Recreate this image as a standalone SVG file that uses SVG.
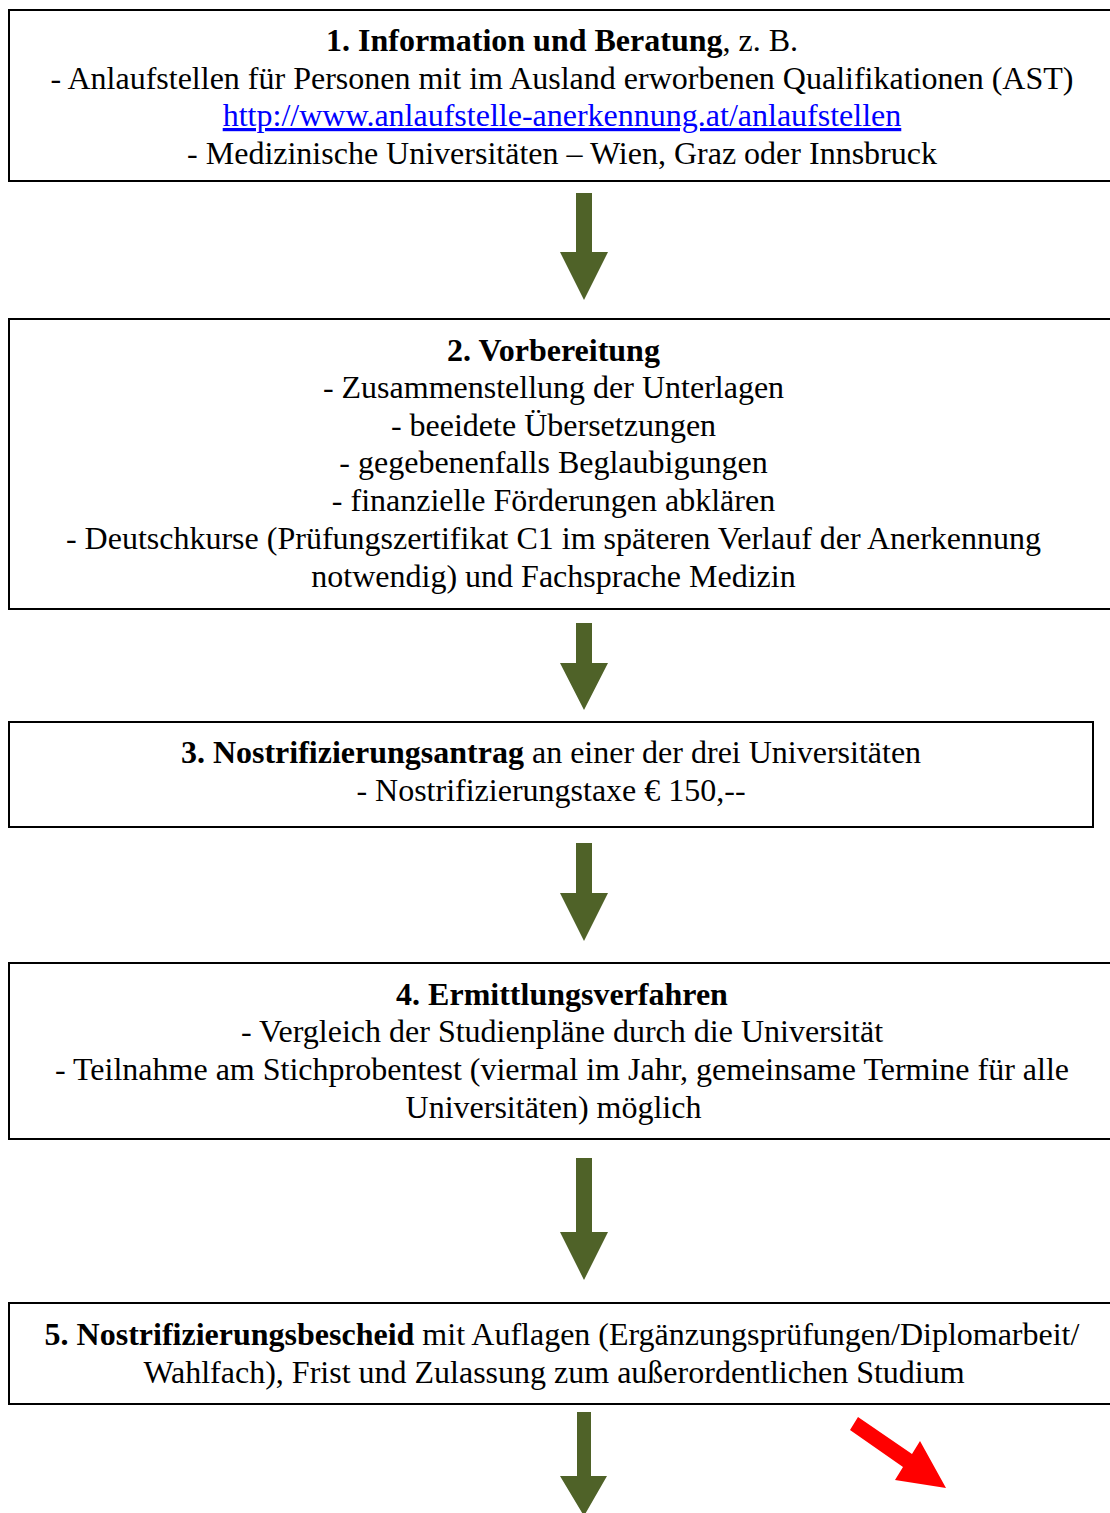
<svg xmlns="http://www.w3.org/2000/svg" width="1110" height="1513" viewBox="0 0 1110 1513">
<style>
.box{fill:#fff;stroke:#000;stroke-width:2}
text{font-family:"Liberation Serif","Times New Roman",serif;font-size:32px;fill:#000;text-anchor:middle}
.b{font-weight:bold}
.link{fill:#0000FF;text-decoration:underline}
.ga{fill:#4F6228}
.ra{fill:#FF0000}
</style>
<rect width="1110" height="1513" fill="#fff"/>
<g id="node1">
<rect class="box" x="9" y="10" width="1110" height="171"/>
<text x="562" y="51"><tspan class="b">1. Information und Beratung</tspan>, z. B.</text>
<text x="562" y="89">- Anlaufstellen für Personen mit im Ausland erworbenen Qualifikationen (AST)</text>
<text x="562" y="126" class="link">http://www.anlaufstelle-anerkennung.at/anlaufstellen</text>
<text x="562" y="164">- Medizinische Universitäten – Wien, Graz oder Innsbruck</text>
</g>
<g id="node2">
<rect class="box" x="9" y="319" width="1110" height="290"/>
<text x="553.5" y="361" class="b">2. Vorbereitung</text>
<text x="553.5" y="398">- Zusammenstellung der Unterlagen</text>
<text x="553.5" y="436">- beeidete Übersetzungen</text>
<text x="553.5" y="473">- gegebenenfalls Beglaubigungen</text>
<text x="553.5" y="511">- finanzielle Förderungen abklären</text>
<text x="553.5" y="549">- Deutschkurse (Prüfungszertifikat C1 im späteren Verlauf der Anerkennung</text>
<text x="553.5" y="587">notwendig) und Fachsprache Medizin</text>
</g>
<g id="node3">
<rect class="box" x="9" y="722" width="1084" height="105"/>
<text x="551" y="763"><tspan class="b">3. Nostrifizierungsantrag</tspan> an einer der drei Universitäten</text>
<text x="551" y="801">- Nostrifizierungstaxe € 150,--</text>
</g>
<g id="node4">
<rect class="box" x="9" y="963" width="1110" height="176"/>
<text x="562" y="1005" class="b">4. Ermittlungsverfahren</text>
<text x="562" y="1042">- Vergleich der Studienpläne durch die Universität</text>
<text x="562" y="1080">- Teilnahme am Stichprobentest (viermal im Jahr, gemeinsame Termine für alle</text>
<text x="553.5" y="1118">Universitäten) möglich</text>
</g>
<g id="node5">
<rect class="box" x="9" y="1303" width="1110" height="101"/>
<text x="562" y="1345"><tspan class="b">5. Nostrifizierungsbescheid</tspan> mit Auflagen (Ergänzungsprüfungen/Diplomarbeit/</text>
<text x="554" y="1383">Wahlfach), Frist und Zulassung zum außerordentlichen Studium</text>
</g>
<g id="connectors">
<polygon class="ga" points="576,193 592,193 592,252 608,252 584,300 560,252 576,252"/>
<polygon class="ga" points="576,623 592,623 592,663 608,663 584,710 560,663 576,663"/>
<polygon class="ga" points="576,843 592,843 592,893 608,893 584,941 560,893 576,893"/>
<polygon class="ga" points="576,1158 592,1158 592,1232 608,1232 584,1280 560,1232 576,1232"/>
<polygon class="ga" points="577,1412 591,1412 591,1476 607,1476 584,1516 560,1476 577,1476"/>
<polygon class="ra" points="858,1417 850,1430 903,1467 895,1480 946,1488 920,1441 912,1454"/>
</g>
</svg>
